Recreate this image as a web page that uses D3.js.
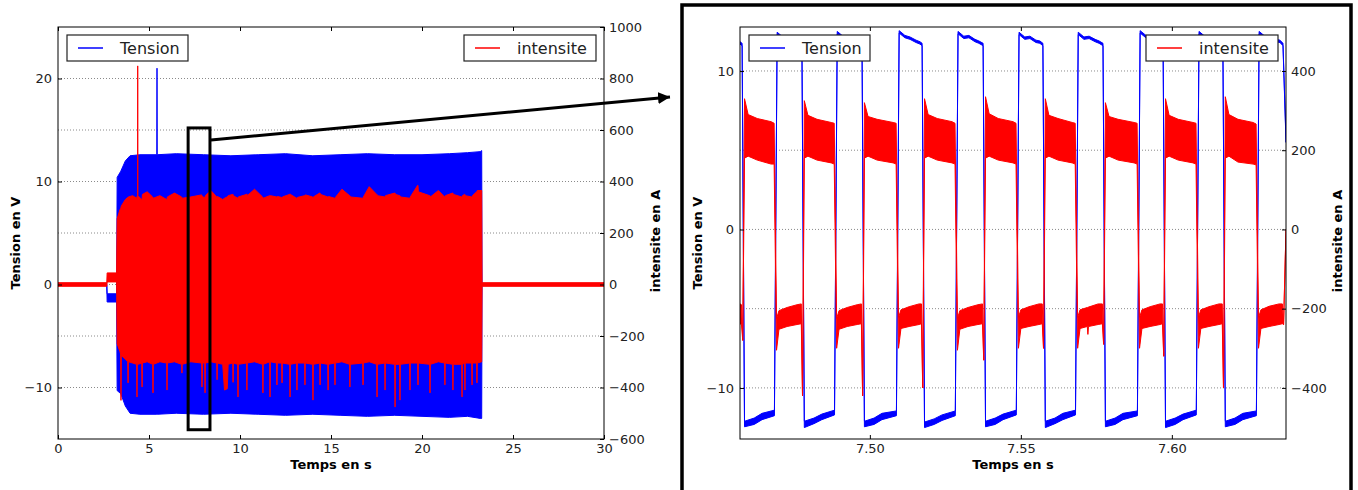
<!DOCTYPE html>
<html><head><meta charset="utf-8">
<script src="https://cdn.jsdelivr.net/npm/d3@7"></script>
<style>body{margin:0;background:#fff} text{font-family:"DejaVu Sans",sans-serif}</style>
</head><body><svg id="c" width="1358" height="490"></svg>
<script>
// ---------------- DATA : overview (0-30 s), envelopes ----------------
const tensionT   = [0, 2.68, 2.70, 3.22, 3.25, 3.45, 3.7, 3.96, 4.5, 5.43, 5.44, 5.45, 6.5, 8, 9.5, 11, 12.5, 14, 15.5, 17, 18.5, 20, 21.5, 22.5, 23.2, 23.28, 23.30, 30];
const tensionMin = [-0.1, -0.1, -1.7, -1.7, -10.3, -10.6, -11.8, -12.5, -12.6, -12.6, -12.6, -12.6, -12.5, -12.6, -12.5, -12.6, -12.7, -12.6, -12.7, -12.8, -12.7, -12.8, -12.9, -12.8, -13.0, -13.0, -0.1, -0.1];
const tensionMax = [0.1, 0.1, -0.9, -0.9, 10.4, 11.0, 12.0, 12.5, 12.6, 12.6, 21.0, 12.6, 12.7, 12.6, 12.5, 12.6, 12.7, 12.5, 12.6, 12.7, 12.6, 12.6, 12.7, 12.8, 12.9, 13.0, 0.1, 0.1];

const intensiteT = [0, 2.68, 2.70, 3.22, 3.25, 3.40, 3.44, 3.46, 3.48, 3.7, 3.83, 3.85, 3.87, 4.10, 4.32, 4.34, 4.36, 4.37, 4.38, 4.39,
  4.60, 4.62, 4.64, 4.9, 5.20, 5.22, 5.24, 5.6, 5.97, 5.99, 6.01, 6.4, 6.79, 6.81, 6.83, 7.3, 7.89, 7.91, 7.95, 8.06, 8.08, 8.10,
  8.4, 8.72, 8.74, 8.76, 9.05, 9.15, 9.30, 9.35, 9.60, 9.62, 9.64, 9.87, 9.89, 9.91, 10.36, 10.38, 10.40, 10.8, 11.24, 11.26, 11.28,
  11.63, 11.65, 11.67, 12.01, 12.03, 12.05, 12.29, 12.31, 12.33, 12.73, 12.75, 12.77, 13.11, 13.13, 13.15, 13.55, 13.57, 13.59,
  13.99, 14.01, 14.03, 14.38, 14.40, 14.42, 14.82, 14.84, 14.86, 15.20, 15.22, 15.24, 15.6, 16.02, 16.04, 16.06, 16.74, 16.76, 16.78,
  17.1, 17.51, 17.53, 17.55, 17.95, 17.97, 17.99, 18.50, 18.52, 18.54, 18.77, 18.79, 18.81, 19.32, 19.34, 19.36, 19.76, 19.78, 19.80,
  20.42, 20.44, 20.46, 20.9, 21.24, 21.26, 21.28, 21.68, 21.70, 21.72, 22.18, 22.20, 22.22, 22.34, 22.36, 22.38, 22.73, 22.75, 22.77,
  23.00, 23.02, 23.04, 23.28, 23.30, 30];
const intensiteMin = [-7, -7, 10, 10, -230, -260, -270, -450, -275, -290, -300, -382, -300, -305, -310, -437, -310, -310, -310, -310,
  -305, -398, -305, -300, -310, -421, -310, -300, -305, -410, -305, -300, -310, -344, -310, -300, -305, -398, -305, -305, -421, -305,
  -300, -305, -370, -305, -310, -410, -405, -310, -305, -380, -305, -310, -437, -310, -305, -410, -305, -300, -310, -421, -310,
  -300, -437, -300, -305, -390, -305, -305, -382, -305, -310, -437, -310, -305, -410, -305, -305, -390, -305,
  -310, -449, -310, -305, -390, -305, -310, -410, -310, -305, -390, -305, -300, -310, -398, -310, -305, -390, -305,
  -300, -310, -437, -310, -305, -410, -305, -310, -476, -310, -310, -449, -310, -305, -410, -305, -305, -390, -305,
  -310, -421, -310, -300, -305, -390, -305, -310, -410, -310, -310, -437, -310, -305, -410, -305, -305, -390, -305,
  -305, -382, -305, -300, -7, -7];
const intensiteMax = [7, 7, 45, 45, 255, 290, 295, 300, 305, 330, 338, 340, 340, 345, 335, 340, 345, 345, 849, 345,
  330, 332, 350, 360, 340, 338, 335, 345, 330, 332, 340, 355, 340, 338, 335, 340, 348, 345, 340, 338, 340, 345,
  365, 340, 338, 342, 330, 335, 340, 345, 350, 350, 345, 335, 338, 340, 350, 352, 345, 370, 340, 338, 335,
  345, 345, 345, 340, 340, 342, 338, 338, 340, 350, 352, 350, 335, 335, 338, 345, 345, 348,
  340, 338, 340, 355, 355, 350, 340, 340, 342, 335, 335, 338, 370, 345, 345, 340, 335, 335, 340,
  380, 350, 350, 345, 340, 340, 345, 355, 355, 350, 345, 345, 340, 335, 335, 340, 385, 385, 360,
  345, 345, 340, 365, 340, 340, 345, 355, 355, 350, 340, 340, 345, 350, 350, 345, 340, 340, 345,
  360, 360, 365, 365, 7, 7];

// ---------------- DATA : zoom 7.457 - 7.638 s ----------------
const zoomTensionT = [7.4570,
  7.4577, 7.4585, 7.4617, 7.4643, 7.4684, 7.4693, 7.4712, 7.4729, 7.4749, 7.4762,
  7.4775, 7.4783, 7.4815, 7.4841, 7.4883, 7.4892, 7.4911, 7.4928, 7.4948, 7.4961,
  7.4974, 7.4982, 7.5014, 7.5040, 7.5088, 7.5097, 7.5116, 7.5133, 7.5153, 7.5166,
  7.5173, 7.5181, 7.5213, 7.5239, 7.5283, 7.5292, 7.5311, 7.5328, 7.5348, 7.5361,
  7.5375, 7.5383, 7.5415, 7.5441, 7.5485, 7.5494, 7.5513, 7.5530, 7.5550, 7.5563,
  7.5573, 7.5581, 7.5613, 7.5639, 7.5681, 7.5690, 7.5709, 7.5726, 7.5746, 7.5759,
  7.5772, 7.5780, 7.5812, 7.5838, 7.5886, 7.5895, 7.5914, 7.5931, 7.5951, 7.5964,
  7.5971, 7.5979, 7.6011, 7.6037, 7.6081, 7.6090, 7.6109, 7.6126, 7.6146, 7.6159,
  7.6169, 7.6177, 7.6209, 7.6235, 7.6280, 7.6289, 7.6308, 7.6325, 7.6345, 7.6358,
  7.6368, 7.6378];
const zoomTensionMin = [11.7,
  11.6, -12.45, -12.3, -12.0, -11.75, 12.3, 12.0, 12.05, 11.8, 11.85,
  11.6, -12.5, -12.25, -12.0, -11.7, 12.35, 12.05, 12.1, 11.85, 11.8,
  11.6, -12.45, -12.3, -12.0, -11.75, 12.4, 12.1, 12.0, 11.8, 11.7,
  11.6, -12.5, -12.3, -12.05, -11.75, 12.35, 12.05, 12.1, 11.85, 11.75,
  11.6, -12.45, -12.3, -12.0, -11.7, 12.3, 12.0, 12.05, 11.8, 11.75,
  11.6, -12.5, -12.25, -12.0, -11.7, 12.3, 12.0, 12.05, 11.85, 11.75,
  11.6, -12.45, -12.3, -12.0, -11.75, 12.4, 12.1, 12.05, 11.85, 11.75,
  11.6, -12.5, -12.3, -12.0, -11.7, 12.35, 12.05, 12.1, 11.85, 11.8,
  11.6, -12.45, -12.3, -12.0, -11.75, 12.35, 12.05, 12.1, 11.85, 11.8,
  11.6, 5.5];
const zoomTensionMax = [11.85,
  11.75, -12.1, -11.9, -11.6, -11.4, 12.45, 12.15, 12.2, 11.95, 12.0,
  11.75, -12.1, -11.9, -11.65, -11.4, 12.5, 12.2, 12.25, 12.0, 11.95,
  11.75, -12.1, -11.9, -11.6, -11.45, 12.55, 12.25, 12.15, 11.95, 11.85,
  11.75, -12.15, -11.95, -11.7, -11.45, 12.5, 12.2, 12.25, 12.0, 11.9,
  11.75, -12.1, -11.9, -11.65, -11.4, 12.45, 12.15, 12.2, 11.95, 11.9,
  11.75, -12.1, -11.9, -11.6, -11.4, 12.45, 12.15, 12.2, 12.0, 11.9,
  11.75, -12.1, -11.9, -11.6, -11.45, 12.55, 12.25, 12.2, 12.0, 11.9,
  11.75, -12.1, -11.9, -11.65, -11.4, 12.5, 12.2, 12.25, 12.0, 11.95,
  11.75, -12.1, -11.9, -11.6, -11.45, 12.5, 12.2, 12.25, 12.0, 11.95,
  11.75, 5.7];

const zoomIntensiteT = [7.4570,
  7.4575, 7.4579, 7.4585, 7.4597, 7.4627, 7.4673, 7.4683, 7.4691, 7.4699, 7.4726, 7.4759,
  7.4773, 7.4777, 7.4783, 7.4795, 7.4825, 7.4872, 7.4882, 7.4890, 7.4898, 7.4925, 7.4958,
  7.4972, 7.4976, 7.4982, 7.4994, 7.5024, 7.5077, 7.5087, 7.5095, 7.5103, 7.5130, 7.5163,
  7.5171, 7.5175, 7.5181, 7.5193, 7.5223, 7.5272, 7.5282, 7.5290, 7.5298, 7.5325, 7.5358,
  7.5373, 7.5377, 7.5383, 7.5395, 7.5425, 7.5474, 7.5484, 7.5492, 7.5500, 7.5527, 7.5560,
  7.5571, 7.5575, 7.5581, 7.5593, 7.5623, 7.5670, 7.5680, 7.5688, 7.5696, 7.5720, 7.5722, 7.5724, 7.5756,
  7.5770, 7.5774, 7.5780, 7.5792, 7.5822, 7.5875, 7.5885, 7.5893, 7.5901, 7.5928, 7.5961,
  7.5969, 7.5973, 7.5979, 7.5991, 7.6021, 7.6070, 7.6080, 7.6088, 7.6096, 7.6123, 7.6156,
  7.6167, 7.6171, 7.6177, 7.6189, 7.6219, 7.6269, 7.6279, 7.6287, 7.6295, 7.6322, 7.6355,
  7.6366, 7.6370, 7.6378];
const zoomIntensiteMin = [-238,
  -240, -280, 180, 185, 175, 165, 165, -305, -252, -245, -240,
  -238, -420, 180, 185, 175, 168, 165, -300, -252, -245, -240,
  -238, -420, 180, 185, 175, 168, 165, -300, -250, -245, -240,
  -238, -400, 180, 185, 175, 168, 165, -305, -252, -245, -240,
  -238, -330, 180, 185, 175, 168, 165, -300, -250, -245, -240,
  -238, -300, 180, 185, 175, 168, 165, -300, -250, -245, -265, -245, -240,
  -238, -290, 180, 185, 175, 168, 165, -300, -250, -245, -240,
  -238, -320, 180, 185, 175, 168, 165, -300, -250, -245, -240,
  -238, -400, 180, 185, 170, 165, 163, -300, -250, -245, -240,
  -238, -240, 0];
const zoomIntensiteMax = [-188,
  -190, -280, 330, 290, 280, 272, 268, -225, -205, -197, -190,
  -188, -420, 325, 288, 278, 270, 268, -225, -205, -197, -190,
  -188, -420, 320, 285, 278, 270, 268, -222, -203, -195, -188,
  -188, -400, 330, 290, 280, 272, 268, -225, -205, -197, -190,
  -188, -330, 335, 292, 280, 272, 268, -222, -203, -195, -188,
  -188, -300, 330, 288, 280, 270, 268, -222, -203, -197, -197, -196, -188,
  -188, -290, 320, 285, 278, 270, 268, -222, -203, -195, -188,
  -188, -320, 330, 288, 278, 270, 268, -222, -203, -195, -188,
  -188, -400, 335, 290, 278, 270, 266, -222, -203, -194, -188,
  -188, -240, 0];

// axes / ticks
const overviewXTicks = [0, 5, 10, 15, 20, 25, 30];
const overviewVTicks = [-10, 0, 10, 20];
const overviewATicks = [-600, -400, -200, 0, 200, 400, 600, 800, 1000];
const zoomXTicks = [7.50, 7.55, 7.60];
const zoomVTicks = [-10, 0, 10];
const zoomATicks = [-400, -200, 0, 200, 400];
const zoomBoxT = [7.15, 8.35];
const zoomBoxV = [-14.1, 15.2];

// ---------------- DRAWING ----------------
const svg = d3.select("#c");
svg.append("rect").attr("width",1358).attr("height",490).attr("fill","#fff");
const BLUE = "#0000ff", RED = "#ff0000";

function zip(t, lo, hi){ return t.map((d,i)=>({t:d, lo:lo[i], hi:hi[i]})); }

function drawPanel(p){
  const g = svg.append("g");
  const x = d3.scaleLinear().domain(p.xDomain).range([p.left, p.right]);
  const yL = d3.scaleLinear().domain(p.vDomain).range([p.bottom, p.top]);
  const yR = d3.scaleLinear().domain(p.aDomain).range([p.bottom, p.top]);
  const cid = "clip" + p.id;
  svg.append("clipPath").attr("id", cid).append("rect")
    .attr("x", p.left).attr("y", p.top).attr("width", p.right-p.left).attr("height", p.bottom-p.top);

  // grid (right axis ticks)
  g.append("g").selectAll("line").data(p.aTicks.filter(d => d > p.aDomain[0] && d < p.aDomain[1])).join("line")
    .attr("x1", p.left).attr("x2", p.right).attr("y1", d => yR(d)).attr("y2", d => yR(d))
    .attr("stroke", "#8a8a8a").attr("stroke-width", 1).attr("stroke-dasharray", "1,2");

  const data = g.append("g").attr("clip-path", `url(#${cid})`);
  const areaV = d3.area().x(d => x(d.t)).y0(d => yL(d.lo)).y1(d => yL(d.hi));
  const areaA = d3.area().x(d => x(d.t)).y0(d => yR(d.lo)).y1(d => yR(d.hi));
  data.append("path").attr("d", areaV(p.tension)).attr("fill", BLUE).attr("stroke", BLUE)
    .attr("stroke-width", p.strokeW).attr("stroke-linejoin", "round");
  data.append("path").attr("d", areaA(p.intensite)).attr("fill", RED).attr("stroke", RED)
    .attr("stroke-width", p.strokeW).attr("stroke-linejoin", "round");

  // frame
  g.append("rect").attr("x", p.left).attr("y", p.top).attr("width", p.right-p.left).attr("height", p.bottom-p.top)
    .attr("fill", "none").attr("stroke", "#000").attr("stroke-width", 1);

  const style = sel => {
    sel.select(".domain").remove();
    sel.selectAll(".tick line").attr("stroke", "#000");
    sel.selectAll("text").attr("font-size", 13).attr("fill", "#222").attr("font-family", "DejaVu Sans");
  };
  g.append("g").attr("transform", `translate(0,${p.bottom})`)
    .call(d3.axisBottom(x).tickValues(p.xTicks).tickSizeInner(-4).tickSizeOuter(0).tickPadding(5).tickFormat(p.xFmt)).call(style);
  g.append("g").attr("transform", `translate(0,${p.top})`)
    .call(d3.axisTop(x).tickValues(p.xTicks).tickSizeInner(-4).tickSizeOuter(0).tickFormat("")).call(style);
  g.append("g").attr("transform", `translate(${p.left},0)`)
    .call(d3.axisLeft(yL).tickValues(p.vTicks).tickSizeInner(-4).tickSizeOuter(0).tickPadding(6).tickFormat(d3.format("d"))).call(style);
  g.append("g").attr("transform", `translate(${p.right},0)`)
    .call(d3.axisRight(yR).tickValues(p.aTicks).tickSizeInner(-4).tickSizeOuter(0).tickPadding(5).tickFormat(d3.format("d"))).call(style);

  // axis titles
  const midY = (p.top + p.bottom) / 2 + 10;
  g.append("text").attr("transform", `translate(${p.left-38},${midY}) rotate(-90)`).attr("text-anchor", "middle")
    .attr("font-size", 13).attr("font-weight", "bold").text("Tension en V");
  g.append("text").attr("transform", `translate(${p.right+56},${midY-2}) rotate(-90)`).attr("text-anchor", "middle")
    .attr("font-size", 13).attr("font-weight", "bold").text("intensite en A");
  g.append("text").attr("x", (p.left+p.right)/2).attr("y", p.bottom+30).attr("text-anchor", "middle")
    .attr("font-size", 13).attr("font-weight", "bold").text("Temps en s");

  // legends
  function legend(x0, w, color, label){
    const lg = g.append("g").attr("transform", `translate(${x0},${p.top+8})`);
    lg.append("rect").attr("width", w).attr("height", 26).attr("fill", "#fff").attr("stroke", "#222").attr("stroke-width", 1.2);
    lg.append("line").attr("x1", 11).attr("x2", 36).attr("y1", 13).attr("y2", 13).attr("stroke", color).attr("stroke-width", 1.5);
    lg.append("text").attr("x", 53).attr("y", 19).attr("font-size", 16).attr("fill", "#222").text(label);
  }
  legend(p.left + 9, 121, BLUE, "Tension");
  legend(p.right - 140, 132, RED, "intensite");
  return {x, yL, yR, g};
}

const A = drawPanel({id:"a", left:58, right:604, top:27, bottom:439,
  xDomain:[0,30], vDomain:[-15,25], aDomain:[-600,1000],
  xTicks: overviewXTicks, vTicks: overviewVTicks, aTicks: overviewATicks, xFmt: d3.format("d"),
  tension: zip(tensionT, tensionMin, tensionMax), intensite: zip(intensiteT, intensiteMin, intensiteMax), strokeW: 1});

const B = drawPanel({id:"b", left:740, right:1286, top:27, bottom:439,
  xDomain:[7.457,7.6378], vDomain:[-13.22,12.78], aDomain:[-529,511],
  xTicks: zoomXTicks, vTicks: zoomVTicks, aTicks: zoomATicks, xFmt: d3.format(".2f"),
  tension: zip(zoomTensionT, zoomTensionMin, zoomTensionMax), intensite: zip(zoomIntensiteT, zoomIntensiteMin, zoomIntensiteMax), strokeW: 1});

// zoom rectangle on the overview
const bx0 = A.x(zoomBoxT[0]), bx1 = A.x(zoomBoxT[1]);
const by0 = A.yL(zoomBoxV[1]), by1 = A.yL(zoomBoxV[0]);
svg.append("rect").attr("x", bx0).attr("y", by0).attr("width", bx1-bx0).attr("height", by1-by0)
  .attr("fill", "none").attr("stroke", "#000").attr("stroke-width", 3);

// frame around the zoom panel
svg.append("rect").attr("x", 682).attr("y", 5).attr("width", 669).attr("height", 500)
  .attr("fill", "none").attr("stroke", "#000").attr("stroke-width", 3.5);

// arrow
const defs = svg.append("defs");
defs.append("marker").attr("id", "ah").attr("viewBox", "0 0 10 10").attr("refX", 10).attr("refY", 5)
  .attr("markerWidth", 4).attr("markerHeight", 4).attr("markerUnits", "strokeWidth").attr("orient", "auto")
  .append("path").attr("d", "M0,0 L10,5 L0,10 z").attr("fill", "#000");
svg.append("line").attr("x1", bx1 + 1).attr("y1", by0 + 12).attr("x2", 670).attr("y2", 97)
  .attr("stroke", "#000").attr("stroke-width", 3).attr("marker-end", "url(#ah)");
</script></body></html>
